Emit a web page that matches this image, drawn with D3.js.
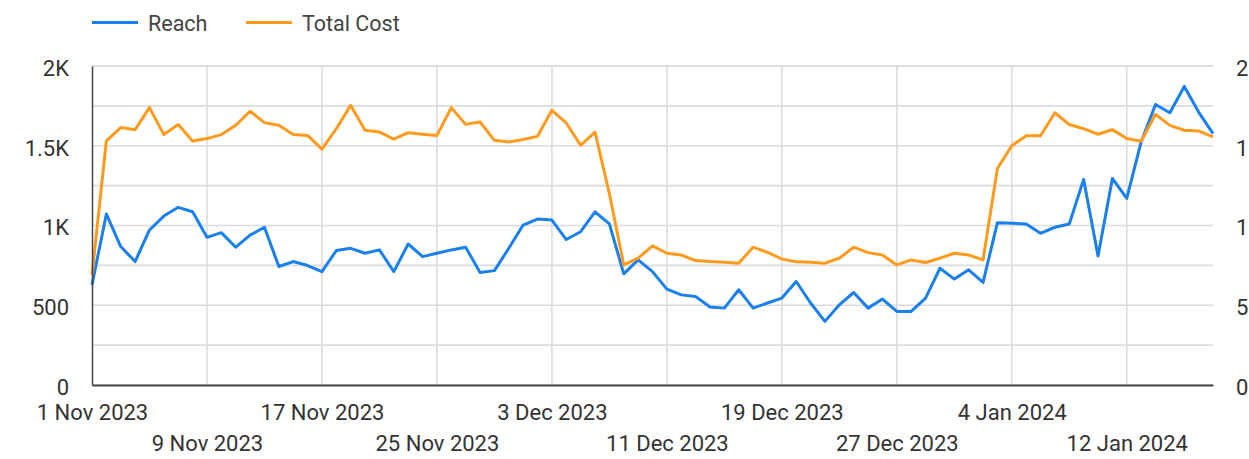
<!DOCTYPE html>
<html>
<head>
<meta charset="utf-8">
<script src="https://cdn.jsdelivr.net/npm/d3@7"></script>
<style>
  body { margin: 0; background: #fff; }
  svg { display: block; font-family: Roboto, sans-serif; }
</style>
</head>
<body>
<svg id="chart" width="1249" height="459"></svg>
<script>
// daily values, 1 Nov 2023 .. 18 Jan 2024
var startDay = '2023-11-01';
var reach = [628, 1072, 868, 774, 972, 1059, 1114, 1086, 926, 955, 864, 940, 989, 743, 774, 749,
  711, 843, 857, 826, 847, 711, 884, 805, 826, 847, 864, 705, 717, 857, 1003, 1040, 1034, 912,
  961, 1086, 1010, 697, 784, 711, 601, 565, 555, 489, 482, 597, 482, 514, 545, 649,
  514, 399, 503, 580, 482, 539, 461, 461, 545, 732, 664, 722, 643, 1018, 1014, 1009, 951,
  989, 1009, 1289, 809, 1295, 1170, 1524, 1759, 1707, 1872, 1711, 1576];
var totalCost = [690, 1530, 1614, 1601, 1739, 1570, 1633, 1530, 1545, 1570, 1628, 1716, 1645, 1628, 1570, 1565,
  1479, 1607, 1753, 1597, 1586, 1541, 1582, 1572, 1564, 1739, 1634, 1649, 1534, 1524, 1539, 1559, 1722, 1643,
  1503, 1586, 1200, 753, 795, 872, 826, 815, 780, 774, 770, 764, 864, 832, 790, 772,
  770, 764, 795, 864, 830, 815, 753, 784, 768, 795, 826, 815, 784, 1357, 1500, 1563, 1563,
  1707, 1633, 1607, 1572, 1601, 1545, 1528, 1697, 1628, 1597, 1593, 1555];
var seriesNames = ['Reach', 'Total Cost'];
var seriesColors = ['#1a80f0', '#ff9a1c'];
var yTicks = [0, 500, 1000, 1500, 2000];
var yGrid = [250, 750, 1250, 1750, 2000];
var dateTicks = ['2023-11-01', '2023-11-09', '2023-11-17', '2023-11-25', '2023-12-03',
  '2023-12-11', '2023-12-19', '2023-12-27', '2024-01-04', '2024-01-12'];

function drawChart() {
  var svg = d3.select('#chart'),
    W = 1249, H = 459,
    m = {top: 66, right: 36, bottom: 74, left: 92},
    parse = d3.utcParse('%Y-%m-%d'),
    t0 = parse(startDay);

  var days = reach.map(function (v, i) { return d3.utcDay.offset(t0, i) });
  var ticks = dateTicks.map(parse);

  var x = d3.scaleUtc().domain(d3.extent(days)).range([m.left, W - m.right]);
  var y = d3.scaleLinear().domain([0, 2000]).range([H - m.bottom, m.top]);
  var fmt = function (v) { return v >= 1000 ? (v / 1000) + 'K' : String(v) };

  // grid
  var grid = svg.append('g').attr('stroke', '#dcdcdc').attr('stroke-width', 1.6);
  grid.selectAll('line.h').data(yTicks.concat(yGrid)).enter().append('line')
    .attr('x1', m.left).attr('x2', W - m.right)
    .attr('y1', function (d) { return y(d) }).attr('y2', function (d) { return y(d) });
  grid.selectAll('line.v').data(ticks.slice(1)).enter().append('line')
    .attr('x1', function (d) { return x(d) }).attr('x2', function (d) { return x(d) })
    .attr('y1', m.top).attr('y2', H - m.bottom);

  // series
  var data = [reach, totalCost];
  data.forEach(function (vals, k) {
    var line = d3.line()
      .x(function (d, i) { return x(days[i]) })
      .y(function (d) { return y(d) });
    svg.append('path').datum(vals)
      .attr('fill', 'none')
      .attr('stroke', seriesColors[k])
      .attr('stroke-width', 3)
      .attr('stroke-linejoin', 'round')
      .attr('d', line);
  });

  // axes
  var left = svg.append('g').attr('transform', 'translate(' + m.left + ',0)')
    .call(d3.axisLeft(y).tickValues(yTicks).tickFormat(fmt).tickSize(0).tickPadding(23));
  var right = svg.append('g').attr('transform', 'translate(' + (W - m.right) + ',0)')
    .call(d3.axisRight(y).tickValues(yTicks).tickFormat(fmt).tickSize(0).tickPadding(23));
  var bottom = svg.append('g').attr('transform', 'translate(0,' + (H - m.bottom) + ')')
    .call(d3.axisBottom(x).tickValues(ticks).tickFormat(d3.utcFormat('%-d %b %Y')).tickSize(0).tickPadding(18));

  [left, right, bottom].forEach(function (g) {
    g.selectAll('text').attr('font-size', 22).attr('fill', '#333').attr('font-family', 'Roboto, sans-serif');
  });
  left.selectAll('text').attr('dy', '0.42em');
  right.selectAll('text').attr('dy', '0.42em');
  right.select('.domain').remove();
  left.select('.domain').attr('stroke', '#444').attr('stroke-width', 1.5);
  bottom.select('.domain').attr('stroke', '#444').attr('stroke-width', 2.2);
  bottom.selectAll('.tick text').attr('dy', function (d, i) { return i % 2 ? '2.2em' : '0.75em' });

  // legend
  var lg = svg.append('g');
  var lx = [92, 246];
  seriesNames.forEach(function (name, k) {
    lg.append('line').attr('x1', lx[k]).attr('x2', lx[k] + 46).attr('y1', 22.5).attr('y2', 22.5)
      .attr('stroke', seriesColors[k]).attr('stroke-width', 3);
    lg.append('text').attr('x', lx[k] + 56).attr('y', 30.5)
      .attr('font-size', 21.5).attr('fill', '#444').text(name);
  });
}
drawChart();
</script>
</body>
</html>
